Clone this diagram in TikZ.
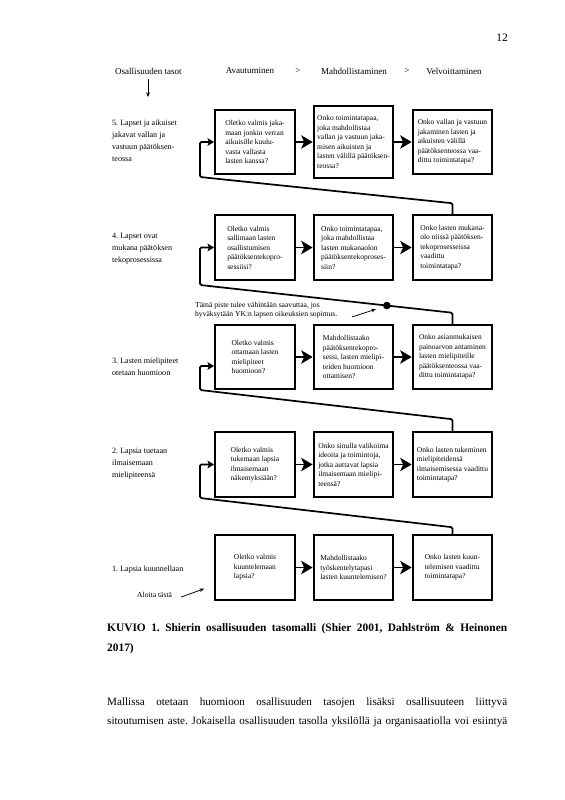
\documentclass[tikz,border=0pt]{standalone}
\usepackage{fontspec}
\setmainfont{Liberation Serif}
\usetikzlibrary{arrows.meta, calc}
\frenchspacing

\begin{document}
\begin{tikzpicture}[x=1.0525pt, y=-1.0525pt,
    box/.style={draw, line width=2pt, minimum width=84pt, minimum height=68pt, inner sep=2pt, align=left, font=\fontsize{7.9}{10}\selectfont},
    level/.style={anchor=west, align=left, inner sep=0pt, font=\fontsize{8.5}{12.5}\selectfont},
    head/.style={inner sep=0pt, font=\fontsize{9.5}{11}\selectfont},
    small/.style={inner sep=0pt, align=left, font=\fontsize{8}{10}\selectfont},
    flow/.style={line width=2pt, -{Stealth[length=12pt, width=14pt, inset=3pt]}},
    back/.style={line width=1.8pt, rounded corners=1.5pt, -{Stealth[length=7pt, width=8pt, inset=1.5pt]}},
    thin arrow/.style={line width=0.8pt, -{Stealth[length=5pt, width=4pt]}}]
  \fill[white] (0,0) rectangle (565,800);
  \useasboundingbox (0,0) rectangle (565,800);

  \node[anchor=base east, inner sep=0pt, font=\fontsize{12}{14}\selectfont] (sivu) at (508,41) {12};

  \node[head, anchor=west] (tasot) at (115,71) {Osallisuuden tasot};
  \node[head] (avaut) at (250,71) {Avautuminen};
  \node[head] (gt1) at (298,71) {>};
  \node[head] (mahd) at (354,71) {Mahdollistaminen};
  \node[head] (gt2) at (407,71) {>};
  \node[head] (velv) at (454,71) {Velvoittaminen};
  \coordinate (alas) at (148,97);
  \draw[thin arrow] ([yshift=-5pt]tasot.south -| alas) -- (alas);

  \node[level] (t5) at (112,141) {5. Lapset ja aikuiset\\jakavat vallan ja\\vastuun päätöksen-\\teossa};
  \node[level] (t4) at (112,249) {4. Lapset ovat\\mukana päätöksen\\tekoprosessissa};
  \node[level] (t3) at (112,367) {3. Lasten mielipiteet\\otetaan huomioon};
  \node[level] (t2) at (112,464) {2. Lapsia tuetaan\\ilmaisemaan\\mielipiteensä};
  \node[level] (t1) at (112,570) {1. Lapsia kuunnellaan};

  \node[box] (r5c1) at (255,142) {Oletko valmis jaka-\\maan jonkin verran\\aikuisille kuulu-\\vasta vallasta\\lasten kanssa?};
  \node[box, minimum height=75pt] (r5c2) at (353.5,142) {Onko toimintatapaa,\\joka mahdollistaa\\vallan ja vastuun jaka-\\misen aikuisten ja\\lasten välillä päätöksen-\\teossa?};
  \node[box] (r5c3) at (452.5,142) {Onko vallan ja vastuun\\jakaminen lasten ja\\aikuisten välillä\\päätöksenteossa vaa-\\dittu toimintatapa?};

  \node[box] (r4c1) at (255,247.5) {Oletko valmis\\sallimaan lasten\\osallistumisen\\päätöksentekopro-\\sessiisi?};
  \node[box] (r4c2) at (353.5,247.5) {Onko toimintatapaa,\\joka mahdollistaa\\lasten mukanaolon\\päätöksentekoproses-\\siin?};
  \node[box] (r4c3) at (452.5,247.5) {Onko lasten mukana-\\olo niissä päätöksen-\\tekoprosesseissa\\vaadittu\\toimintatapa?};

  \node[box] (r3c1) at (255,357) {Oletko valmis\\ottamaan lasten\\mielipiteet\\huomioon?};
  \node[box] (r3c2) at (353.5,357) {Mahdollistaako\\päätöksentekopro-\\sessi, lasten mielipi-\\teiden huomioon\\ottamisen?};
  \node[box] (r3c3) at (452.5,357) {Onko asianmukaisen\\painoarvon antaminen\\lasten mielipiteille\\päätöksenteossa vaa-\\dittu toimintatapa?};

  \node[box] (r2c1) at (255,464.5) {Oletko valmis\\tukemaan lapsia\\ilmaisemaan\\näkemyksiään?};
  \node[box] (r2c2) at (353.5,464.5) {Onko sinulla valikoima\\ideoita ja toimintoja,\\jotka auttavat lapsia\\ilmaisemaan mielipi-\\teensä?};
  \node[box] (r2c3) at (452.5,464.5) {Onko lasten tukeminen\\mielipiteidensä\\ilmaisemisessa vaadittu\\toimintatapa?};

  \node[box] (r1c1) at (255,567.5) {Oletko valmis\\kuuntelemaan\\lapsia?};
  \node[box] (r1c2) at (353.5,567.5) {Mahdollistaako\\työskentelytapasi\\lasten kuuntelemisen?};
  \node[box] (r1c3) at (452.5,567.5) {Onko lasten kuun-\\telemisen vaadittu\\toimintatapa?};

  \draw[flow] (r5c1) -- (r5c2);
  \draw[flow] (r5c2) -- (r5c3);
  \draw[flow] (r4c1) -- (r4c2);
  \draw[flow] (r4c2) -- (r4c3);
  \draw[flow] (r3c1) -- (r3c2);
  \draw[flow] (r3c2) -- (r3c3);
  \draw[flow] (r2c1) -- (r2c2);
  \draw[flow] (r2c2) -- (r2c3);
  \draw[flow] (r1c1) -- (r1c2);
  \draw[flow] (r1c2) -- (r1c3);

  \coordinate (k4) at ($(r4c3.north)+(0,-11)$);
  \coordinate (j4) at (200,177);
  \draw[back] (r4c3.north) -- (k4) -- (j4) |- (r5c1.west);
  \coordinate (k3) at ($(r3c3.north)+(0,-11)$);
  \coordinate (j3) at (200,285);
  \draw[back] (r3c3.north) -- (k3) -- (j3) |- (r4c1.west);
  \coordinate (k2) at ($(r2c3.north)+(0,-12)$);
  \coordinate (j2) at (200,390);
  \coordinate (r3sisaan) at ($(r3c1.west)+(0,9)$);
  \draw[back] (r2c3.north) -- (k2) -- (j2) |- (r3sisaan);
  \coordinate (k1) at ($(r1c3.north)+(0,-7)$);
  \coordinate (j1) at (200,498);
  \draw[back] (r1c3.north) -- (k1) -- (j1) |- (r2c1.west);

  \node[circle, fill, inner sep=0pt, minimum size=8pt] (piste) at ($(j3)!0.74!(k3)$) {};
  \node[small, anchor=west] (huom) at (195,310) {Tämä piste tulee vähintään saavuttaa, jos\\hyväksytään YK:n lapsen oikeuksien sopimus.};
  \coordinate (huomalku) at (352,317);
  \draw[thin arrow, shorten >=8pt] (huomalku) -- (piste);

  \node[small, anchor=west] (aloita) at (137,595) {Aloita tästä};
  \coordinate (aloitakarki) at ($(r1c1.south west)+(-10,-12)$);
  \draw[thin arrow] ($(aloita.east)+(9,2)$) -- (aloitakarki);

  \node[anchor=north west, text width=421pt, align=justify, inner sep=0pt, font=\fontsize{12}{21}\selectfont\bfseries] (kuvio) at (107,623.5) {KUVIO 1. Shierin osallisuuden tasomalli (Shier 2001, Dahlström \& Heinonen\linebreak 2017)};
  \node[anchor=north west, text width=421pt, align=left, inner sep=0pt, font=\fontsize{11.7}{20}\selectfont] (malli) at (107,697.5) {\spaceskip=\fontdimen2\font plus 1em minus \fontdimen4\font
    \hbox to 421pt{Mallissa otetaan huomioon osallisuuden tasojen lisäksi osallisuuteen liittyvä}\par
    \hbox to 421pt{sitoutumisen aste. Jokaisella osallisuuden tasolla yksilöllä ja organisaatiolla voi esiintyä}};
\end{tikzpicture}
\end{document}
